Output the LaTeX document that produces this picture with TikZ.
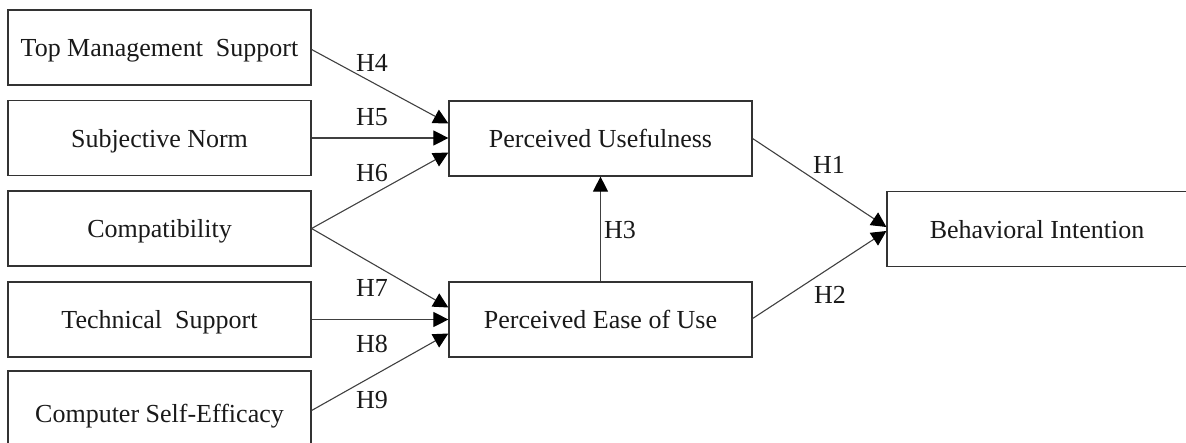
\documentclass[tikz,border=0pt]{standalone}
\usepackage{fontspec}
\setmainfont{Liberation Serif}
\usetikzlibrary{arrows.meta}
\begin{document}
\begin{tikzpicture}[x=1pt,y=-1pt,
  box/.style={draw=black!80, line width=1.2pt, minimum width=303pt, minimum height=75pt, inner sep=0pt, text depth=0pt, font=\fontsize{26}{30}\selectfont, text=black!90},
  arr/.style={draw=black!75, line width=1.1pt, -{Triangle[length=15pt,width=15pt,fill=black,color=black]}},
  lab/.style={font=\fontsize{26}{30}\selectfont, text=black!90, inner sep=0pt}]
\useasboundingbox (0,0) rectangle (1186,442);
\node[box] (tms) at (159.5,47.5) {Top Management\ \ Support};
\node[box] (sn) at (159.5,138) {Subjective Norm};
\node[box] (cmp) at (159.5,228.5) {Compatibility};
\node[box] (ts) at (159.5,319.5) {Technical\ \ Support};
\node[box, minimum height=85pt] (cse) at (159.5,413.5) {Computer Self-Efficacy};
\node[box] (pu) at (600.5,138.5) {Perceived Usefulness};
\node[box] (peou) at (600.5,319.5) {Perceived Ease of Use};
\node[box, minimum width=300pt] (bi) at (1037,229) {Behavioral Intention};
\draw[arr] ([yshift=-2pt]tms.east) -- ([yshift=15pt]pu.west);
\draw[arr] (sn.east) -- ([yshift=0.5pt]pu.west);
\draw[arr] (cmp.east) -- ([yshift=-14pt]pu.west);
\draw[arr] (cmp.east) -- ([yshift=12pt]peou.west);
\draw[arr] (ts.east) -- (peou.west);
\draw[arr] ([yshift=3pt]cse.east) -- ([yshift=-14pt]peou.west);
\draw[arr] (peou.north) -- (pu.south);
\draw[arr] (pu.east) -- ([yshift=2pt]bi.west);
\draw[arr] ([yshift=1pt]peou.east) -- ([yshift=-2pt]bi.west);
\node[lab] (h4) at (372,63) {H4};
\node[lab] (h5) at (372,117) {H5};
\node[lab] (h6) at (372,173) {H6};
\node[lab] (h7) at (372,288) {H7};
\node[lab] (h8) at (372,344) {H8};
\node[lab] (h9) at (372,400) {H9};
\node[lab] (h3) at (620,230) {H3};
\node[lab] (h1) at (829,165) {H1};
\node[lab] (h2) at (830,295) {H2};
\end{tikzpicture}
\end{document}
